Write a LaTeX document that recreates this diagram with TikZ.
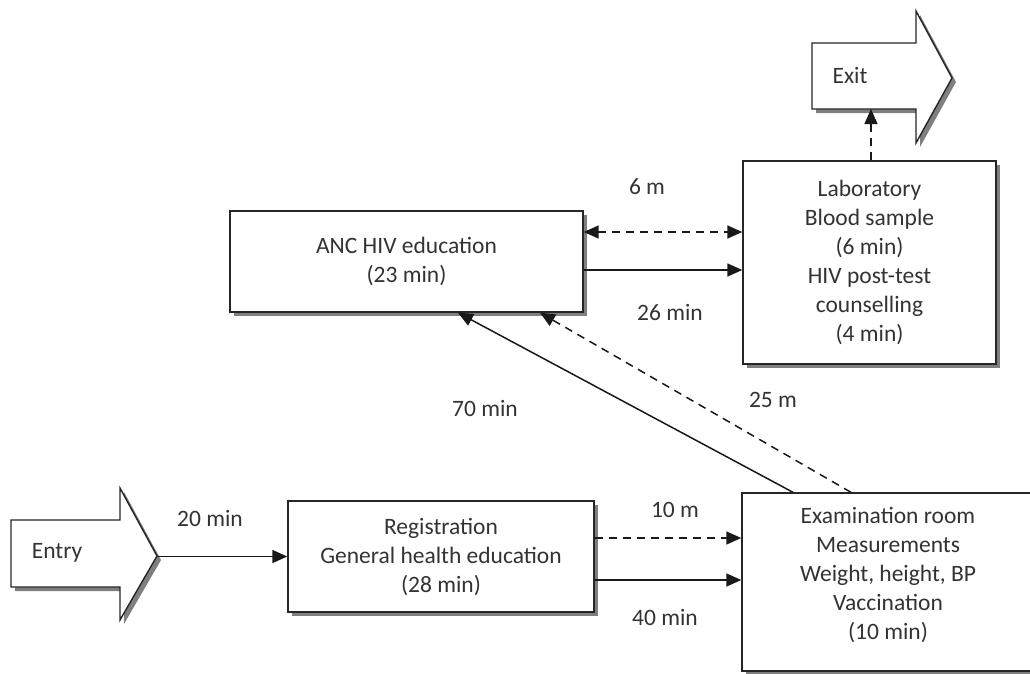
\documentclass[tikz,border=0pt]{standalone}
\usepackage{fontspec}
\setmainfont{Carlito}
\usetikzlibrary{arrows.meta,shadows}
\definecolor{txt}{HTML}{333333}
\definecolor{shd}{HTML}{7F7F7F}
\begin{document}
\begin{tikzpicture}[x=1pt,y=-1pt,
  fnt/.style={font=\fontsize{23.5}{29}\selectfont, text=txt},
  box/.style={fnt, draw=black!85, line width=1.4pt, fill=white, align=center, inner sep=0pt,
    drop shadow={shadow xshift=4pt, shadow yshift=-4pt, fill=shd, opacity=1}},
  lbl/.style={fnt, inner sep=0pt},
  conn/.style={line width=1.5pt, draw=black!90, -{Triangle[length=15pt,width=13pt]}},
  dconn/.style={conn, dash pattern=on 8pt off 6pt},
  bigarrow/.style={draw=black!85, line width=1.4pt, fill=white},
  bigshadow/.style={fill=shd, draw=none},
]
\useasboundingbox (0,0) rectangle (1030,673);
\clip (0,0) rectangle (1030,673);

% Exit block arrow
\fill[bigshadow, shift={(4pt,-4pt)}] (812,43) -- (916,43) -- (916,11) -- (952,78) -- (916,143) -- (916,109) -- (812,109) -- cycle;
\draw[bigarrow] (812,43) -- (916,43) -- (916,11) -- (952,78) -- (916,143) -- (916,109) -- (812,109) -- cycle;
\node[lbl] (exit) at (850,75) {Exit};
\coordinate (exitin) at (871,109);

% Entry block arrow
\fill[bigshadow, shift={(4pt,-4pt)}] (11,520) -- (120,520) -- (120,488) -- (157,556) -- (120,620) -- (120,587) -- (11,587) -- cycle;
\draw[bigarrow] (11,520) -- (120,520) -- (120,488) -- (157,556) -- (120,620) -- (120,587) -- (11,587) -- cycle;
\node[lbl] (entry) at (57,553) {Entry};
\coordinate (entrytip) at (157,556.5);

% Boxes
\node[box, minimum width=253pt, minimum height=203pt] (lab) at (869.5,262.5)
  {Laboratory\\Blood sample\\(6 min)\\HIV post-test\\counselling\\(4 min)};
\node[box, minimum width=353pt, minimum height=101pt] (anc) at (406.5,261.5)
  {ANC HIV education\\(23 min)};
\node[box, minimum width=306pt, minimum height=111pt] (reg) at (441,556.5)
  {Registration\\General health education\\(28 min)};
\node[box, minimum width=292pt, minimum height=178pt] (exam) at (888,582) {};
\node[lbl, align=center] (examtxt) at (888,575)
  {Examination room\\Measurements\\Weight, height, BP\\Vaccination\\(10 min)};

% Connectors
\draw[conn] (entrytip) -- (reg.west);
\draw[dconn] ([yshift=18.5pt]reg.east) -- ([yshift=18.5pt]reg.east -| exam.west);
\draw[conn] ([yshift=-23.5pt]reg.east) -- ([yshift=-23.5pt]reg.east -| exam.west);
\draw[dconn, {Triangle[length=15pt,width=13pt]}-{Triangle[length=15pt,width=13pt]}]
  ([yshift=29.5pt]anc.east) -- ([yshift=29.5pt]anc.east -| lab.west);
\draw[conn] ([yshift=-8.5pt]anc.east) -- ([yshift=-8.5pt]anc.east -| lab.west);
\draw[dconn] ([xshift=1.5pt]lab.north) -- (exitin);
\draw[conn] ([xshift=-95pt]exam.north) -- ([xshift=51.5pt]anc.south);
\draw[dconn] ([xshift=-37pt]exam.north) -- ([xshift=133.5pt]anc.south);

% Labels
\node[lbl] (l20) at (210,518) {20 min};
\node[lbl] (l6m) at (647,187) {6 m};
\node[lbl] (l26) at (670,312) {26 min};
\node[lbl] (l10m) at (675,510) {10 m};
\node[lbl] (l40) at (665,617) {40 min};
\node[lbl] (l70) at (485,408) {70 min};
\node[lbl] (l25m) at (773,400) {25 m};
\end{tikzpicture}
\end{document}
